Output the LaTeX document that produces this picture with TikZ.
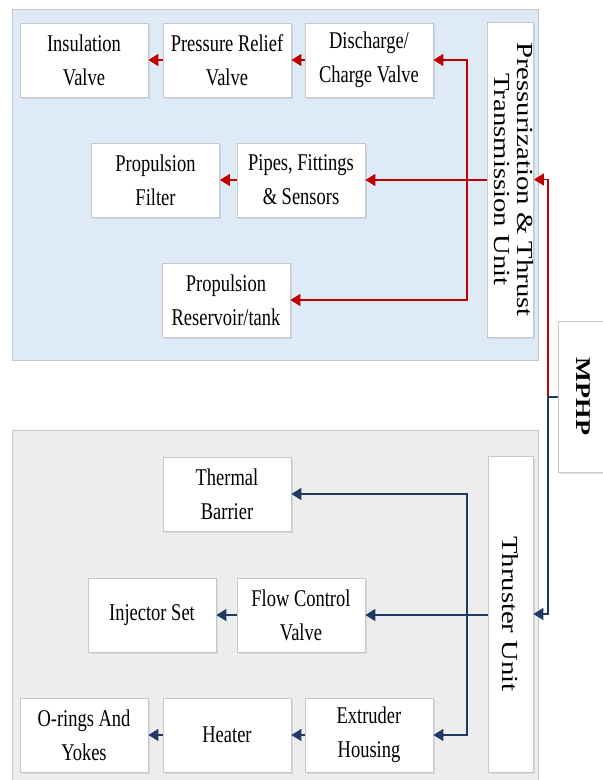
\documentclass[tikz,border=0pt]{standalone}
\usepackage{graphicx}
\usepackage{fontspec}
\setmainfont[FakeStretch=0.77]{Liberation Serif}
\newfontfamily\rotfont[FakeStretch=1.25]{Liberation Serif}
\usetikzlibrary{arrows.meta,shadows}
\definecolor{panelblue}{HTML}{DEEAF6}
\definecolor{panelgray}{HTML}{EDEDED}
\definecolor{edgegray}{HTML}{C8C8C8}
\definecolor{arrred}{HTML}{C00000}
\definecolor{arrnavy}{HTML}{1F3864}
\definecolor{shadowblue}{HTML}{9DB5D5}
\begin{document}
\begin{tikzpicture}[x=1pt,y=-1pt,
  panel/.style={draw=edgegray,line width=1pt},
  blk/.style={draw=edgegray,fill=white,line width=0.8pt,minimum width=128pt,minimum height=74pt,
    inner sep=0pt,align=center,font=\fontsize{24}{34}\selectfont,
    drop shadow={shadow xshift=1.5pt,shadow yshift=-2pt,fill=shadowblue,opacity=0.35}},
  ublk/.style={draw=edgegray,fill=white,line width=0.8pt,minimum width=45pt,inner sep=0pt,
    drop shadow={shadow xshift=1.5pt,shadow yshift=-2pt,fill=shadowblue,opacity=0.35}},
  redarr/.style={draw=arrred,line width=1.6pt,-{Triangle[length=10pt,width=12pt]}},
  navyarr/.style={draw=arrnavy,line width=1.6pt,-{Triangle[length=10pt,width=12pt]}},
  navyline/.style={draw=arrnavy,line width=1.6pt}]
\useasboundingbox (0,0) rectangle (603,780);
% panels
\draw[panel,fill=panelblue] (12,9) rectangle (538,360);
\draw[panel,fill=panelgray] (12,430) rectangle (538,786);
% top blocks
\node[blk] (ins) at (84,60) {Insulation\\Valve};
\node[blk] (prv) at (227,60) {Pressure Relief\\Valve};
\node[blk] (dis) at (369,60) {Discharge/\\Charge Valve};
\node[blk] (filt) at (155.5,180) {Propulsion\\Filter};
\node[blk] (pipes) at (301,180) {Pipes, Fittings\\\& Sensors};
\node[blk] (res) at (226,300) {Propulsion\\Reservoir/tank};
\node[ublk,minimum height=315pt] (ptu) at (510.5,179.5)
  {\rotatebox[origin=c]{-90}{\rotfont\fontsize{23}{23}\selectfont\begin{tabular}{@{}c@{}}Pressurization \& Thrust\\Transmission Unit\end{tabular}}};
% bottom blocks
\node[blk] (therm) at (227,494) {Thermal\\Barrier};
\node[blk] (inj) at (152,615) {Injector Set};
\node[blk] (flow) at (301,615) {Flow Control\\Valve};
\node[blk] (oring) at (84,735) {O-rings And\\Yokes};
\node[blk] (heat) at (227,735) {Heater};
\node[blk] (ext) at (369,735) {Extruder\\Housing};
\node[ublk,minimum height=316pt] (tu) at (510.5,614)
  {\rotatebox[origin=c]{-90}{\rotfont\fontsize{23}{23}\selectfont Thruster Unit}};
% MPHP
\node[ublk,minimum width=50pt,minimum height=151pt] (mphp) at (583,396.5)
  {\rotatebox[origin=c]{-90}{\rotfont\fontsize{21}{23}\selectfont\bfseries MPHP}};
% top connectors
\coordinate (jt) at (467,180);
\draw[redarr] (ptu.west |- pipes.east) -- (pipes.east);
\draw[redarr] (jt) |- (dis.east);
\draw[redarr] (jt) |- (res.east);
\draw[redarr] (dis.west) -- (prv.east);
\draw[redarr] (prv.west) -- (ins.east);
\draw[redarr] (pipes.west) -- (filt.east);
% MPHP connectors
\coordinate (jm) at (548,397);
\draw[redarr] (jm) |- (ptu.east);
\draw[navyarr] (jm) |- (tu.east);
\draw[navyline] (mphp.west |- jm) -- (jm);
% bottom connectors
\coordinate (jb) at (467,615);
\draw[navyarr] (tu.west |- flow.east) -- (flow.east);
\draw[navyarr] (jb) |- (therm.east);
\draw[navyarr] (jb) |- (ext.east);
\draw[navyarr] (flow.west) -- (inj.east);
\draw[navyarr] (ext.west) -- (heat.east);
\draw[navyarr] (heat.west) -- (oring.east);
\end{tikzpicture}
\end{document}
